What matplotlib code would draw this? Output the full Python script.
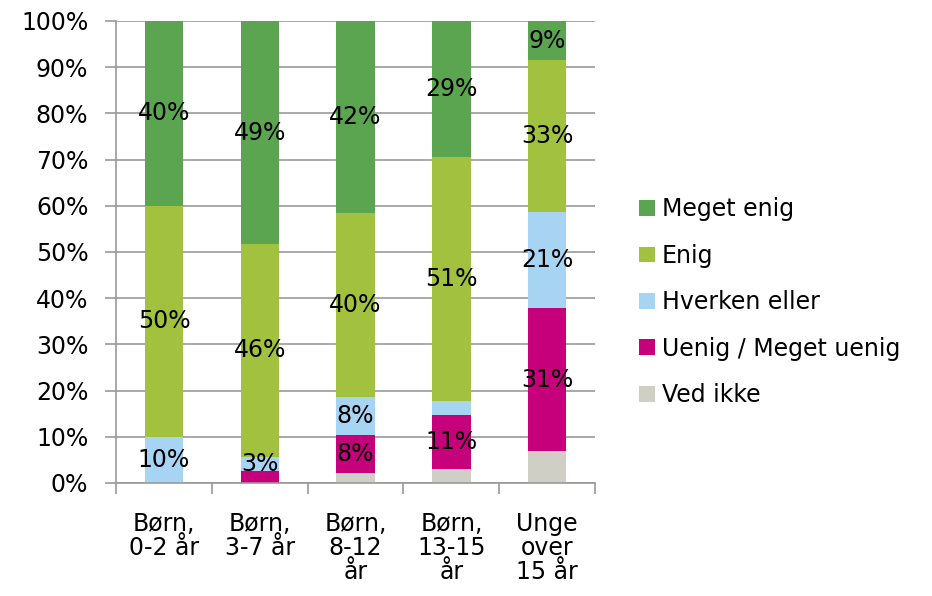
import matplotlib
matplotlib.use('Agg')
import matplotlib.pyplot as plt
import numpy as np

categories = ['Børn,\n0-2 år', 'Børn,\n3-7 år', 'Børn,\n8-12\når', 'Børn,\n13-15\når', 'Unge\nover\n15 år']
series = ['Ved ikke', 'Uenig / Meget uenig', 'Hverken eller', 'Enig', 'Meget enig']
colors = ['#CFCFC5', '#C6007A', '#A8D4F4', '#A2C13E', '#5BA550']

ved_ikke = [0.0, 0.0, 2.1, 3.0, 6.9]
uenig = [0.0, 2.7, 8.3, 11.7, 31.0]
hverken = [10.0, 3.0, 8.2, 3.0, 20.8]
enig = [50.0, 46.0, 39.8, 52.9, 32.8]
meget_enig = [40.0, 48.3, 41.6, 29.4, 8.5]

# label text per segment (None = no label shown)
lbl_ved_ikke = [None, None, None, None, None]
lbl_uenig = [None, None, '8%', '11%', '31%']
lbl_hverken = ['10%', '3%', '8%', None, '21%']
lbl_enig = ['50%', '46%', '40%', '51%', '33%']
lbl_meget_enig = ['40%', '49%', '42%', '29%', '9%']

values = [ved_ikke, uenig, hverken, enig, meget_enig]
labels = [lbl_ved_ikke, lbl_uenig, lbl_hverken, lbl_enig, lbl_meget_enig]

fs = 17
plt.rcParams['font.family'] = 'DejaVu Sans'
fig = plt.figure(figsize=(9.32, 5.96), dpi=100)
ax = fig.add_axes([0.1245, 0.1896, 0.514, 0.7752])

x = np.arange(len(categories))
bottom = np.zeros(len(categories))
handles = []
for name, vals, col, lbls in zip(series, values, colors, labels):
    vals = np.array(vals)
    h = ax.bar(x, vals, 0.4, bottom=bottom, color=col, label=name, zorder=2)
    handles.append(h)
    for i, t in enumerate(lbls):
        if t is not None:
            ax.text(x[i], bottom[i] + vals[i] / 2, t, ha='center', va='center',
                    fontsize=fs, color='black', zorder=3)
    bottom = bottom + vals

ax.set_ylim(0, 100)
ax.set_xlim(-0.5, len(categories) - 0.5)
ax.set_yticks(np.arange(0, 101, 10))
ax.set_yticklabels(['%d%%' % v for v in range(0, 101, 10)], fontsize=fs)
ax.yaxis.grid(True, color='#999999', linewidth=1.2, zorder=0)
ax.set_xticks(x)
ax.set_xticklabels(categories, fontsize=fs, linespacing=1.0)
ax.set_xticks(np.arange(-0.5, len(categories)), minor=True)
ax.tick_params(axis='x', which='major', length=0, pad=21)
ax.tick_params(axis='x', which='minor', length=8, color='#999999', width=1.2)
ax.tick_params(axis='y', length=8, color='#999999', width=1.2, pad=12)
for s in ['top', 'right']:
    ax.spines[s].set_visible(False)
for s in ['left', 'bottom']:
    ax.spines[s].set_color('#999999')
    ax.spines[s].set_linewidth(1.2)

leg = fig.legend(handles[::-1], series[::-1], loc='center left',
                 bbox_to_anchor=(0.663, 0.493), frameon=False, fontsize=fs,
                 handlelength=0.65, handleheight=0.65, handletextpad=0.3,
                 labelspacing=0.95)

fig.savefig('out.png', dpi=100)
